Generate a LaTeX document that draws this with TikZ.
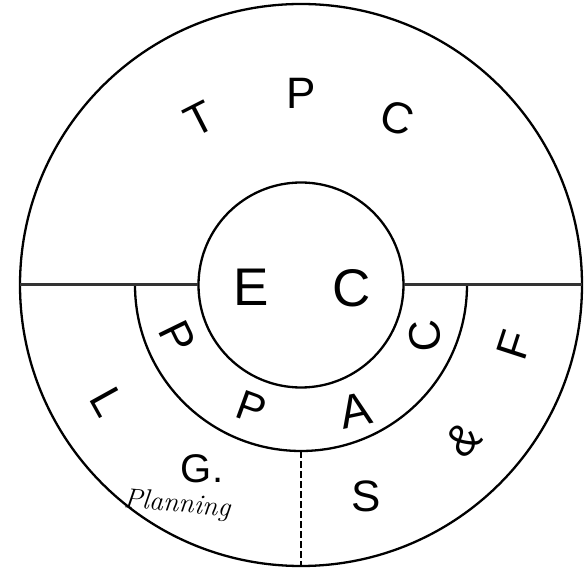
\documentclass[tikz,border=0pt]{standalone}
\usepackage{fontspec}
\newfontfamily\stencil{Liberation Sans}
\usepackage{tikz}
\usetikzlibrary{positioning,calc}

\begin{document}
\begin{tikzpicture}[x=1pt, y=1pt,
  ring/.style={circle, draw=black, line width=2.3pt, inner sep=0pt, outer sep=0pt},
  lt/.style={font=\stencil\fontsize{44}{44}\selectfont, inner sep=0pt},
  big/.style={lt, font=\stencil\fontsize{53}{53}\selectfont},
  sep/.style={line width=3pt, draw=black!80},
  cut/.style={line width=2.3pt, dash pattern=on 7pt off 3pt}
]
\useasboundingbox (-301,-284) rectangle (285,285);
\node[ring, minimum size=562pt] (outer) at (0,0) {};
\node[ring, minimum size=205pt] (core) at (0,0) {};
\coordinate (pl) at (-166,0);
\coordinate (pb) at (0,-166);

\draw[line width=2.3pt] (pl) arc[start angle=180, end angle=360, radius=166pt];
\draw[sep] (outer.west) -- (core.west);
\draw[sep] (core.east) -- (outer.east);
\draw[cut] (pb) -- (outer.south);

% top band
\node[lt, rotate=27]  (tT) at (-101,166) {T};
\node[lt]             (tP) at (0,192)    {P};
\node[lt, rotate=-18] (tC) at (96,167)   {C};

% core
\node[big] (cE) at (-50,-2) {E};
\node[big] (cC) at (51,-3)  {C};

% middle ring
\node[lt, rotate=-64] (mP) at (-123,-52) {P};
\node[lt, font=\stencil\fontsize{42}{42}\selectfont, rotate=-20] (mQ) at (-49,-123) {P};
\node[lt, font=\stencil\fontsize{47}{47}\selectfont, rotate=12]  (mA) at (54,-125) {A};
\node[lt, rotate=95]  (mC) at (124,-51)  {C};

% lower band
\node[lt, rotate=-61] (bL) at (-193,-117) {L};
\node[lt, font=\stencil\fontsize{40}{40}\selectfont] (bG) at (-99,-184) {G.};
\node[font=\itshape\fontsize{28}{28}\selectfont, rotate=-5, inner sep=0pt] (plan) at (-124,-220) {Planning};
\node[lt] (bS) at (65,-211) {S};
\node[lt, rotate=45] (bA) at (162,-155) {\&};
\node[lt, rotate=72] (bF) at (213,-60) {F};
\end{tikzpicture}
\end{document}
